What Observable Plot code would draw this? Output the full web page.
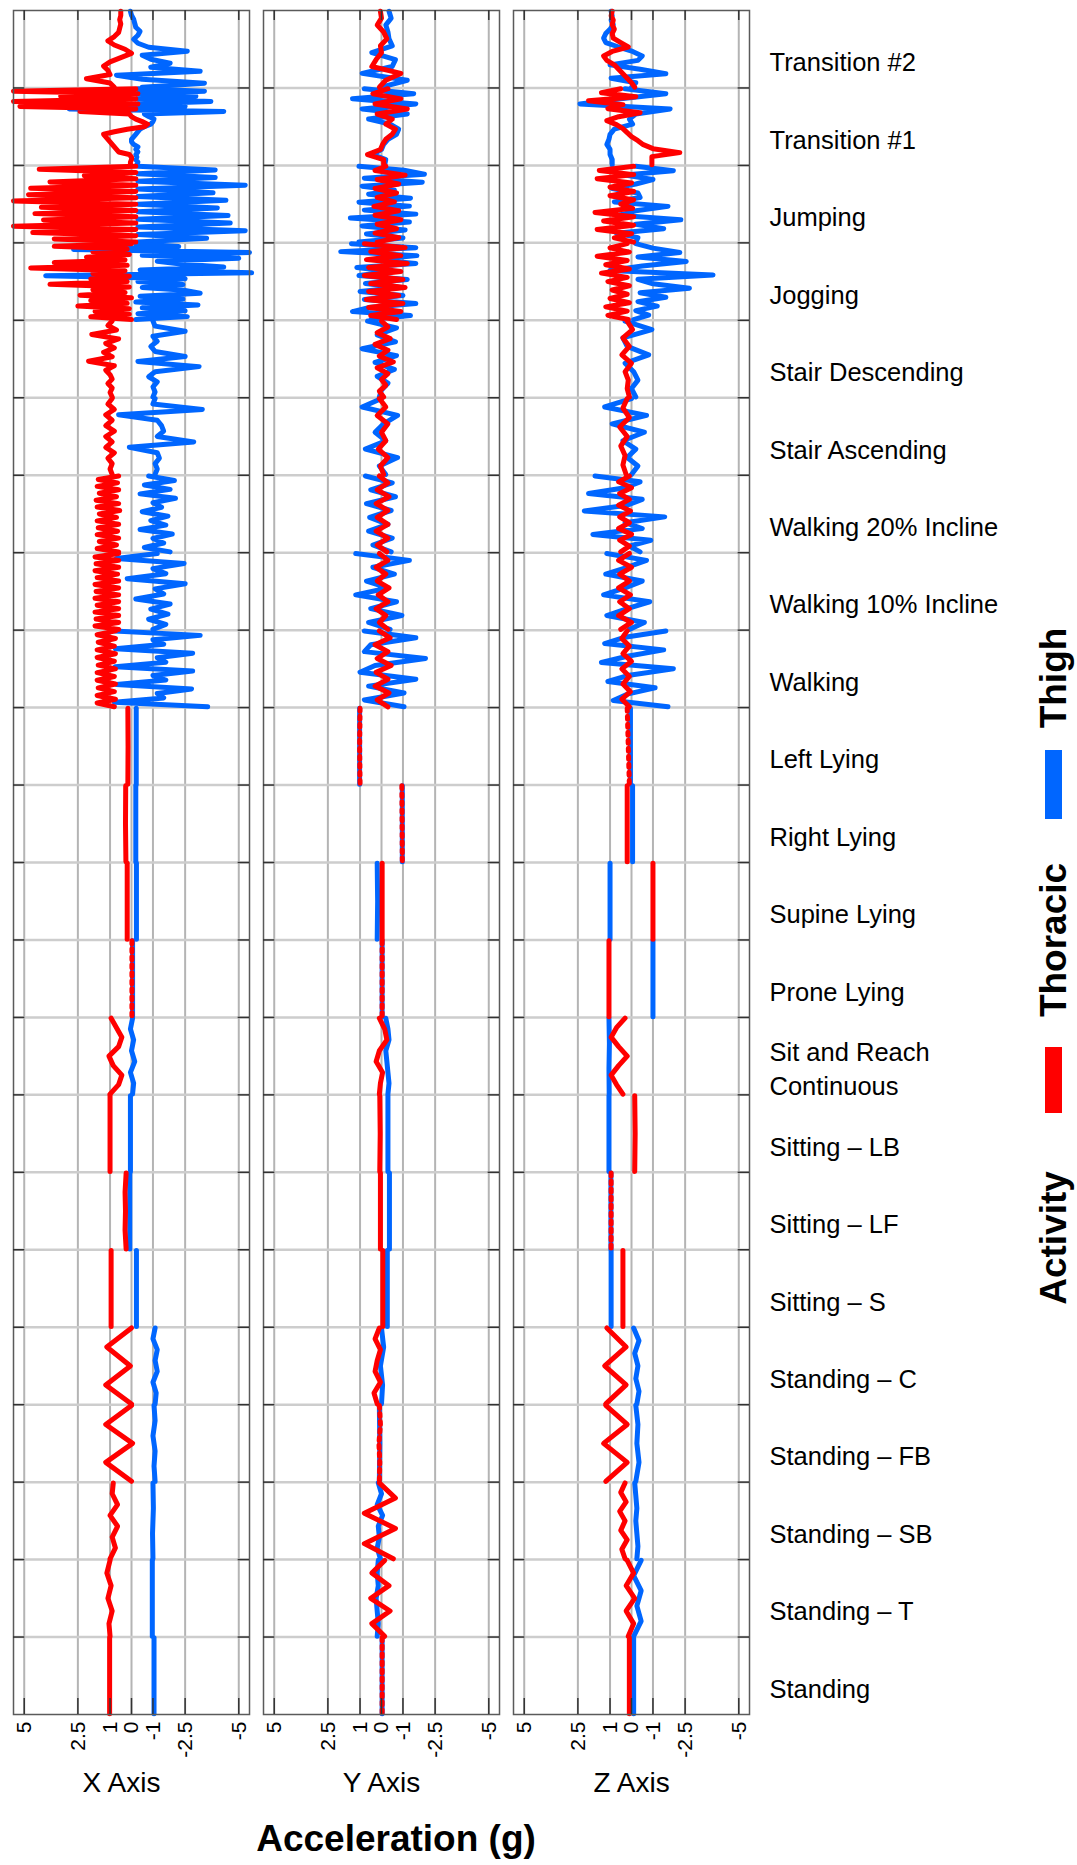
<!DOCTYPE html>
<html><head><meta charset="utf-8">
<script src="https://cdn.jsdelivr.net/npm/d3@7"></script>
<script src="https://cdn.jsdelivr.net/npm/@observablehq/plot@0.6"></script>
<style>
html,body{margin:0;padding:0;background:#fff;overflow:hidden;}
#wrap{position:relative;width:1077px;height:1865px;font-family:"Liberation Sans",Arial,sans-serif;}
#overlay{position:absolute;left:0;top:0;pointer-events:none;}
</style></head><body><div id="wrap"></div>
<script>
// ---------- data (values read top-to-bottom within each activity band) ----------
const activities = ["Transition #2","Transition #1","Jumping","Jogging","Stair Descending","Stair Ascending",
  "Walking 20% Incline","Walking 10% Incline","Walking","Left Lying","Right Lying","Supine Lying","Prone Lying",
  "Sit and Reach\nContinuous","Sitting – LB","Sitting – LF","Sitting – S","Standing – C","Standing – FB",
  "Standing – SB","Standing – T","Standing"];
const axesNames = ["X Axis","Y Axis","Z Axis"];
const sensors = ["Thoracic","Thigh"];
const xTicks = [5, 2.5, 1, 0, -1, -2.5, -5];

const xThoracic = [
  "0.5 0.5 0.55 0.5 0.55 0.6 0.8 1.1 0.8 0.3 0.0 0.5 1.0 1.3 1.1 1.0 2.1 1.0 0.8",
  "-0.2 5.5 -0.3 3.3 -0.2 5.5 -0.3 5.2 -0.2 2.4 0.1 0.0 -0.2 -0.5 -0.75 -0.6 0.2 0.8 1.3 1.2 1.1 1.0 0.9 0.8 0.7 0.6 0.1 0.0 0.0 0.05 0.05",
  "-0.2 4.3 -0.2 2.2 -0.2 3.8 -0.2 4.7 -0.2 4.8 -0.2 5.5 -0.2 4.2 -0.2 4.5 -0.2 4.1 -0.2 5.5 -0.2 4.6 -0.2 3.6 -0.2",
  "0 3.6 0.2 1.8 0.1 2.1 0.3 3.6 0.2 4.7 0.3 1.8 0.1 1.9 0.2 3.8 0.1 1.8 0.3 2.4 0 1.9 0.2 2.5 0.1 1.7 0.1 1.9 0",
  "0.9 1.1 0.7 1.85 0.6 1.2 0.8 1.3 0.9 2.0 0.8 1.2 1.0 0.9 1.1 0.9 1.0 0.9",
  "0.9 1.1 0.8 1.2 0.9 1.2 0.8 1.2 0.9 1.2 0.8 1.1 0.9 1.0 0.9",
  "0.6 1.55 0.65 1.6 0.6 1.5 0.7 1.65 0.6 1.6 0.55 1.5 0.7 1.6 0.6 1.55 0.65 1.6 0.6 1.5 0.7 1.6 0.6",
  "0.6 1.7 0.6 1.65 0.6 1.7 0.65 1.6 0.6 1.7 0.6 1.65 0.6 1.7 0.6 1.6 0.6 1.7 0.6 1.65 0.6 1.7 0.6",
  "0.75 1.6 0.75 1.55 0.8 1.6 0.75 1.6 0.8 1.55 0.75 1.6 0.8 1.6 0.75 1.55 0.8 1.6 0.75 1.6 0.8",
  "0.17 0.16 0.17",
  "0.27 0.28 0.26",
  "0.2 0.2",
  "-0.02 -0.02",
  "0.95 0.7 0.45 0.6 1.05 0.85 0.45 0.6 1.0",
  "1.0 1.0",
  "0.25 0.3 0.28 0.3 0.25",
  "0.95 0.95",
  "0.0 1.15 0.05 1.2 0.0",
  "0.0 1.2 -0.05 1.2 0.0",
  "0.85 0.9 0.65 1.0 0.65 0.9 0.75 1.0",
  "1.0 1.15 0.95 1.1 0.9 1.05 1.0",
  "1.02 1.02"
];
const xThigh = [
  "0.05 0.0 -0.1 -0.15 -0.2 -0.4 -0.3 -0.1 -0.3 -0.8 -2.6 -0.5 -0.9 -1.8 -0.9 -3.2 0.7 -0.5 -3.4 -0.5",
  "-0.3 -3.4 -0.2 -3.0 -0.3 -3.7 -0.2 -2.5 2.9 -4.3 -0.6 -0.8 -1.05 -1.0 -0.9 -0.6 -0.4 -0.3 -0.2 -0.1 0.0 0.0 -0.1 -0.3 -0.2 -0.3 -0.2 -0.25 -0.2 -0.3 -0.25",
  "-0.3 -3.9 -0.3 -3.9 -0.3 -5.3 -0.3 -3.8 -0.3 -4.4 -0.3 -4.0 -0.3 -4.5 -0.3 -4.6 -0.3 -5.3 -0.3 -3.5 -0.3",
  "-0.2 -2.2 2.7 -5.5 -0.5 -5.0 -1.2 -2.3 -4.3 -0.4 -5.6 4.0 -2.5 -0.3 -2.4 -0.5 -2.5 -3.2 -0.4 -2.4 -0.2 -3.1 -0.5 -2.5 -0.3 -2.6 -0.2",
  "-1.0 -1.1 -2.5 -1.0 -1.2 -0.9 -1.1 -2.5 -0.3 -3.15 -1.1 -0.8 -1.2 -1.0 -1.1 -1.0",
  "-1.1 -1.0 -3.3 0.6 -1.2 -1.4 -1.5 -1.2 -2.9 0.1 -1.2 -1.3 -1.1 -1.2 -1.1",
  "-0.8 -2.0 -0.6 -1.8 -0.4 -2.05 -1.0 -1.4 -0.5 -1.7 -0.9 -1.6 -0.4 -1.9 -1.0 -1.5 -0.6 -1.8",
  "-1.2 0.7 -2.45 -1.0 -1.6 0.2 -2.5 -1.1 -1.5 -0.2 -1.8 -0.9 -1.7 -0.8 -1.6 -1.0",
  "0.8 -3.2 -1.0 -1.5 0.75 -2.85 -1.2 -1.6 0.75 -2.85 -1.0 -1.6 0.7 -2.8 -1.2 -1.5 0.8 -3.55",
  "-0.22 -0.22",
  "-0.2 -0.2",
  "-0.23 -0.23",
  "-0.05 -0.05",
  "-0.05 0.05 -0.1 0.0 -0.15 0.05 -0.1 -0.05",
  "0.05 0.05",
  "0.08 0.08",
  "-0.23 -0.23",
  "-1.1 -1.0 -1.2 -1.1 -1.2 -1.0 -1.15 -1.1",
  "-1.05 -1.1 -1.0 -1.1 -1.05 -1.1",
  "-1.0 -1.02 -0.98 -1.0",
  "-0.97 -0.97",
  "-1.05 -1.05"
];
const yThoracic = [
  "0.05 0.0 0.2 -0.1 -0.25 0.05 0.0 0.25 0.45 -0.9 -0.2 0.1",
  "-0.3 0.4 -0.9 0.3 -1.2 0.2 -0.5 -0.2 -0.65 -0.5 -0.2 -0.05 0.05 0.65 -0.1 -0.1",
  "-0.2 0.3 -1.1 0.2 -0.8 0.3 -0.7 0.2 -0.6 0.35 -0.8 0.3 -0.9 0.2 -0.7 0.3 -0.8 0.2",
  "0.8 -1.1 0.5 -0.9 0.7 -1.2 0.6 -0.9 0.8 -1.0 0.5 -1.1 0.6 -0.8 0.7 -1.0 0.6 -0.9 0.5 -0.7",
  "0.0 -0.3 0.2 -0.4 0.3 -0.3 0.1 -0.55 0.2 -0.3 0.0 -0.2 0.1 -0.1",
  "0.1 -0.2 0.2 -0.3 0.0 -0.2 0.15 -0.3 0.05 -0.1",
  "0.1 -0.3 0.2 -0.35 0.25 -0.3 0.2 -0.3 0.25 -0.3 0.2 -0.25",
  "0.1 -0.3 0.25 -0.2 0.2 -0.35 0.15 -0.3 0.25 -0.2 0.1 -0.3",
  "0.1 -0.4 0.3 -0.3 0.2 -0.45 0.25 -0.3 0.3 -0.35 0.2 -0.3",
  "1.0 1.02 1.0",
  "-0.95 -0.97",
  "-0.03 -0.03",
  "-0.03 -0.03",
  "0.1 -0.15 -0.25 0.1 0.25 -0.05 0.05 0.1",
  "0.08 0.06 0.08",
  "0.05 0.05",
  "-0.06 -0.06",
  "0.1 0.3 0.05 0.2 0.3 0.05 0.35 0.2",
  "0.1 0.05 0.12 0.08 0.1",
  "0.1 -0.65 0.8 -0.65 0.8 -0.55",
  "-0.15 0.45 -0.35 0.5 -0.4 0.45 -0.15",
  "-0.03 -0.03"
];
const yThigh = [
  "-0.35 -0.45 -0.2 -0.3 -0.35 -0.5 0.45 -0.65 -0.5 0.9 -1.2 0.0",
  "0.8 -1.5 1.35 -1.6 0.9 -1.2 0.6 -0.4 -0.8 -0.7 -0.3 -0.1 0.0 0.4 -0.2 -0.15",
  "1.05 -1.05 -2.0 0.8 -1.9 0.9 -0.6 0.6 -1.35 1.05 -1.3 0.8 -1.6 1.45 -1.3 0.9 -1.1 0.7 -1.0 1.05",
  "1.4 -1.6 1.9 -1.65 0.3 -1.6 1.15 -0.5 1.05 -1.2 0.75 -0.9 1.0 -1.0 0.8 -1.6 0.6 1.35 -1.35 0.5",
  "0.65 -0.7 0.2 -0.65 0.9 -0.7 0.3 -0.6 0.2 -0.3 0.0 0.1",
  "0.0 0.9 -0.75 -0.1 0.3 -0.2 0.75 -0.75 0.1 -0.2",
  "0.75 -0.5 0.5 -0.65 0.7 -0.45 0.55 -0.3 0.6 -0.5 0.4 -0.45",
  "1.2 -1.3 0.4 -0.6 0.7 -0.3 1.2 -0.7 0.5 -0.95 0.6 -0.4",
  "0.8 -1.6 0.5 0.8 -2.05 0.3 1.0 -1.6 0.6 -1.05 0.8 -1.05",
  "1.02 1.02",
  "-0.97 -0.97",
  "0.2 0.18 0.2",
  "-0.03 -0.03",
  "-0.2 -0.3 -0.35 -0.2 -0.25 -0.3 -0.35 -0.3",
  "-0.3 -0.3",
  "-0.37 -0.37",
  "-0.27 -0.27",
  "0.0 -0.1 0.05 -0.05 0.0",
  "0.1 0.08 0.1",
  "0.15 0.0 0.2 -0.05 0.15 0.1 0.2 0.05",
  "0.15 0.2 0.15 0.25 0.2 0.15 0.2",
  "-0.03 -0.03"
];
const zThoracic = [
  "0.9 0.95 0.85 0.9 0.8 0.9 0.85 0.5 0.15 0.9 1.3 1.15 0.8 0.6 0.4 0.2 0.0 -0.15",
  "0.5 1.4 -0.2 2.0 0.4 1.1 -0.4 0.6 1.15 0.7 0.4 0.2 0.0 -0.3 -0.55 -1.0 -2.25 -0.95 -0.95 -0.95",
  "-0.1 1.5 -0.1 1.6 0.0 1.0 -0.1 1.0 -0.1 0.5 -0.05 1.7 -0.1 1.3 -0.1 1.6 0.0 0.8 -0.1",
  "0.2 1.0 0.1 1.6 0.2 1.2 0.1 1.4 0.2 1.1 0.1 0.9 0.2 1.0 0.1 1.2 0.2 1.1 0.15",
  "0.2 -0.05 0.4 0.1 0.45 0.0 0.3 0.15 0.2 0.1",
  "0.2 0.4 0.1 0.55 0.2 0.5 0.3 0.4 0.25",
  "0.1 0.6 0.0 0.55 0.1 0.6 0.05 0.55 0.1 0.6 0.0 0.55 0.1 0.5",
  "0.1 0.6 0.0 0.55 0.1 0.6 0.05 0.55 0.1 0.6 0.0 0.5",
  "0.2 0.45 0.1 0.4 0.0 0.45 0.1 0.4 0.05 0.45 0.1",
  "0.2 0.15 0.1",
  "0.2 0.2",
  "-1.0 -1.0",
  "1.05 1.05",
  "0.3 0.7 0.95 0.6 0.2 0.6 0.95 0.7 0.4",
  "-0.15 -0.17 -0.15",
  "0.95 0.95",
  "0.4 0.4",
  "1.15 0.25 1.25 0.25 1.2",
  "1.2 0.2 1.3 0.2 1.2",
  "0.3 0.5 0.25 0.55 0.3 0.5 0.2 0.45 0.3",
  "0.2 -0.1 0.25 -0.15 0.25 -0.1 0.15",
  "0.1 0.1"
];
const zThigh = [
  "0.95 0.9 0.95 0.85 1.0 1.2 1.3 1.2 0.6 -0.05 -0.5 -0.3 1.0 -0.4 -1.6 0.95 -0.2 0.0",
  "0.3 -1.6 0.5 2.4 -1.8 -0.2 0.1 -0.05 0.8 1.0 1.05 1.15 1.0 1.0 0.9 0.9",
  "-0.2 -1.95 0.3 -1.0 -0.2 0.9 -0.3 -0.4 0.8 -1.7 -0.2 0.6 -2.3 -0.2 -1.5 0.7 -0.3 -0.2",
  "-0.2 -1.0 -2.25 -0.3 -2.55 -0.5 1.0 -3.8 -0.3 -1.0 -2.7 -0.4 -1.6 -0.3 -1.2 -0.2 -0.8 -0.1",
  "0.3 -0.95 0.4 0.2 -0.8 0.3 -0.1 -0.3 0.0 -0.2",
  "0.0 1.25 -0.7 0.9 -0.6 0.4 -0.2 0.2 -0.3 0.0",
  "1.7 -0.4 0.3 2.0 -0.5 0.2 2.2 -1.55 0.3 -0.5 1.8 -0.9 0.1 -0.4",
  "1.15 -0.7 0.2 1.2 -0.5 0.3 1.3 -0.85 0.2 1.15 -0.6 0.1",
  "-1.6 0.3 1.25 -1.5 0.2 1.4 -1.95 0.1 1.1 -1.1 0.2 0.85 -1.7",
  "0.05 0.05",
  "-0.05 -0.05",
  "1.0 1.0",
  "-1.0 -1.0",
  "1.05 1.03 1.05 1.04",
  "1.05 1.05",
  "0.96 0.96",
  "0.95 0.95",
  "-0.1 -0.35 -0.15 -0.3 -0.2 -0.35 -0.25",
  "-0.2 -0.3 -0.25 -0.35 -0.2",
  "-0.15 -0.2 -0.25 -0.2 -0.25 -0.3 -0.25",
  "-0.45 -0.1 -0.45 -0.25 -0.45 -0.1",
  "-0.1 -0.1"
];

// ---------- styling config (not data) ----------
const RED = "#ff0000", BLUE = "#0066ff";
const dottedThoracic = {"X Axis": [12], "Y Axis": [9, 10, 12, 18, 21], "Z Axis": [9, 15]};

// ---------- build table ----------
const series = {
  "X Axis": {Thoracic: xThoracic, Thigh: xThigh},
  "Y Axis": {Thoracic: yThoracic, Thigh: yThigh},
  "Z Axis": {Thoracic: zThoracic, Thigh: zThigh}
};
const rows = [];
for (const a of axesNames) for (const s of sensors) {
  series[a][s].forEach((str, band) => {
    const vals = str.trim().split(/\s+/).map(Number);
    const n = vals.length;
    vals.forEach((v, j) => {
      rows.push({axis: a, sensor: s, band, key: a + s + band,
        dotted: s === "Thoracic" && dottedThoracic[a].includes(band),
        y: band + 0.01 + 0.98 * (n > 1 ? j / (n - 1) : 0.5), v});
    });
  });
}

// ---------- layout ----------
const W = 1077, H = 1865, mL = 12, mR = 327, mT = 10, mB = 151;
const PH = H - mT - mB;
const padIn = 0.056;
const BW = ((W - mL - mR) / (3 - padIn)) * (1 - padIn);
const bounds = d3.range(1, activities.length);
const centers = activities.map((_, i) => i + 0.5);

const chart = Plot.plot({
  width: W, height: H,
  marginLeft: mL, marginRight: mR, marginTop: mT, marginBottom: mB,
  style: {fontFamily: "'Liberation Sans', Arial, sans-serif", color: "#000", background: "#fff"},
  fx: {domain: axesNames, paddingInner: padIn, paddingOuter: 0, axis: null},
  x: {domain: [5.5, -5.5]},
  y: {domain: [0, activities.length], reverse: true, axis: null},
  marks: [
    Plot.gridX(xTicks, {stroke: "#b4b4b4", strokeOpacity: 1, strokeWidth: 2}),
    Plot.gridY(bounds, {stroke: "#cdcdcd", strokeOpacity: 1, strokeWidth: 2.5}),
    Plot.line(rows.filter(d => d.sensor === "Thigh"),
      {x: "v", y: "y", z: "key", fx: "axis", stroke: BLUE, strokeWidth: 5, strokeLinejoin: "round"}),
    Plot.line(rows.filter(d => d.sensor === "Thoracic" && !d.dotted),
      {x: "v", y: "y", z: "key", fx: "axis", stroke: RED, strokeWidth: 5, strokeLinejoin: "round"}),
    Plot.line(rows.filter(d => d.sensor === "Thoracic" && d.dotted),
      {x: "v", y: "y", z: "key", fx: "axis", stroke: RED, strokeWidth: 5, strokeDasharray: "3,5"}),
    Plot.frame({stroke: "#5a5a5a", strokeWidth: 1.5}),
    Plot.tickX(xTicks, {x: d => d, insetBottom: PH - 10, stroke: "#333", strokeWidth: 1.5}),
    Plot.tickX(xTicks, {x: d => d, insetTop: PH - 16, stroke: "#333", strokeWidth: 1.5}),
    Plot.tickY(bounds, {y: d => d, insetRight: BW - 12, stroke: "#333", strokeWidth: 1.5}),
    Plot.tickY(bounds, {y: d => d, insetLeft: BW - 12, stroke: "#333", strokeWidth: 1.5}),
    Plot.axisX({anchor: "bottom", ticks: xTicks, tickFormat: d => String(d), tickRotate: -90,
      tickSize: 0, tickPadding: 7, fontSize: 21, label: null}),
    Plot.axisY({anchor: "right", ticks: centers, tickFormat: d => activities[Math.floor(d)],
      tickSize: 0, tickPadding: 20, fontSize: 25.5, label: null, dy: 11, lineHeight: 1.35}),
    Plot.text(axesNames.slice(0, 1), {fx: d => d, text: d => d, frameAnchor: "bottom", dy: 77, dx: -10, fontSize: 28}),
    Plot.text(axesNames.slice(1), {fx: d => d, text: d => d, frameAnchor: "bottom", dy: 77, fontSize: 28})
  ]
});
const wrap = document.getElementById("wrap");
wrap.appendChild(chart);

// ---------- overlay: x title and legend ----------
const ov = d3.select(wrap).append("svg").attr("id", "overlay").attr("width", W).attr("height", H)
  .style("font-family", "'Liberation Sans', Arial, sans-serif");
ov.append("text").attr("x", 396).attr("y", 1851).attr("text-anchor", "middle")
  .attr("font-weight", "bold").attr("font-size", 37).text("Acceleration (g)");
const legendItems = [
  {label: "Activity", cy: 1238, swatch: null},
  {label: "Thoracic", cy: 940, swatch: {color: RED, y0: 1047, y1: 1113}},
  {label: "Thigh", cy: 678, swatch: {color: BLUE, y0: 750, y1: 819}}
];
for (const it of legendItems) {
  ov.append("text").attr("transform", `translate(1066,${it.cy}) rotate(-90)`)
    .attr("text-anchor", "middle").attr("font-weight", "bold").attr("font-size", 37).text(it.label);
  if (it.swatch) ov.append("rect").attr("x", 1045).attr("width", 17)
    .attr("y", it.swatch.y0).attr("height", it.swatch.y1 - it.swatch.y0).attr("fill", it.swatch.color);
}
</script></body></html>
